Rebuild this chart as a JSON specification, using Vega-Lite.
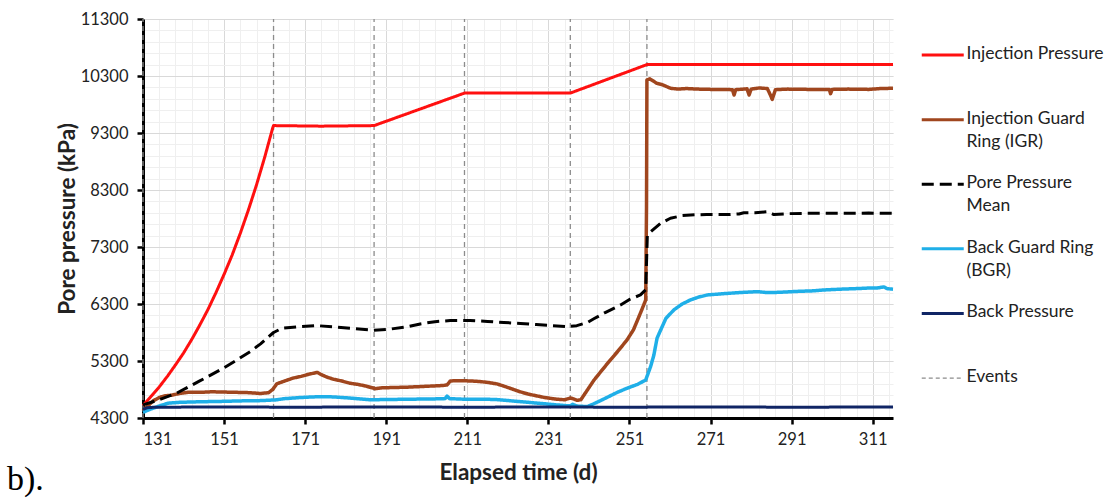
{
  "$schema": "https://vega.github.io/schema/vega-lite/v6.json",
  "width": 750,
  "height": 399,
  "autosize": {"type": "none"},
  "padding": {"left": 143, "top": 19, "right": 222, "bottom": 82},
  "background": "white",
  "config": {"view": {"stroke": null}, "font": "Lato"},
  "title": {"text": "b).", "orient": "bottom", "anchor": "start", "frame": "group", "font": "Liberation Serif", "fontSize": 34, "fontWeight": "normal", "color": "#000000", "dx": -136, "offset": -21},
  "datasets": {
    "events": [
      {"series": "Events", "day": 131},
      {"series": "Events", "day": 163.2},
      {"series": "Events", "day": 188},
      {"series": "Events", "day": 210.3},
      {"series": "Events", "day": 236.4},
      {"series": "Events", "day": 255.3}
    ],
    "lines": [
      {"series": "Injection Pressure", "day": 131, "value": 4520},
      {"series": "Injection Pressure", "day": 133, "value": 4680},
      {"series": "Injection Pressure", "day": 135, "value": 4845},
      {"series": "Injection Pressure", "day": 137, "value": 5030},
      {"series": "Injection Pressure", "day": 139, "value": 5230},
      {"series": "Injection Pressure", "day": 141, "value": 5440},
      {"series": "Injection Pressure", "day": 143, "value": 5675},
      {"series": "Injection Pressure", "day": 145, "value": 5930},
      {"series": "Injection Pressure", "day": 147, "value": 6200},
      {"series": "Injection Pressure", "day": 149, "value": 6500},
      {"series": "Injection Pressure", "day": 151, "value": 6820},
      {"series": "Injection Pressure", "day": 153, "value": 7160},
      {"series": "Injection Pressure", "day": 155, "value": 7540},
      {"series": "Injection Pressure", "day": 157, "value": 7950},
      {"series": "Injection Pressure", "day": 159, "value": 8390},
      {"series": "Injection Pressure", "day": 161, "value": 8870},
      {"series": "Injection Pressure", "day": 163, "value": 9390},
      {"series": "Injection Pressure", "day": 163.2, "value": 9430},
      {"series": "Injection Pressure", "day": 175, "value": 9420},
      {"series": "Injection Pressure", "day": 188, "value": 9430},
      {"series": "Injection Pressure", "day": 210.3, "value": 10000},
      {"series": "Injection Pressure", "day": 236.4, "value": 10000},
      {"series": "Injection Pressure", "day": 255.3, "value": 10500},
      {"series": "Injection Pressure", "day": 316, "value": 10500},

      {"series": "Injection Guard Ring (IGR)", "day": 131, "value": 4420},
      {"series": "Injection Guard Ring (IGR)", "day": 132, "value": 4500},
      {"series": "Injection Guard Ring (IGR)", "day": 133.5, "value": 4600},
      {"series": "Injection Guard Ring (IGR)", "day": 135, "value": 4660},
      {"series": "Injection Guard Ring (IGR)", "day": 136.5, "value": 4690},
      {"series": "Injection Guard Ring (IGR)", "day": 138, "value": 4700},
      {"series": "Injection Guard Ring (IGR)", "day": 140, "value": 4730},
      {"series": "Injection Guard Ring (IGR)", "day": 142, "value": 4750},
      {"series": "Injection Guard Ring (IGR)", "day": 145, "value": 4750},
      {"series": "Injection Guard Ring (IGR)", "day": 148, "value": 4760},
      {"series": "Injection Guard Ring (IGR)", "day": 151, "value": 4755},
      {"series": "Injection Guard Ring (IGR)", "day": 154, "value": 4750},
      {"series": "Injection Guard Ring (IGR)", "day": 157, "value": 4745},
      {"series": "Injection Guard Ring (IGR)", "day": 160, "value": 4730},
      {"series": "Injection Guard Ring (IGR)", "day": 162, "value": 4745},
      {"series": "Injection Guard Ring (IGR)", "day": 163, "value": 4800},
      {"series": "Injection Guard Ring (IGR)", "day": 164, "value": 4900},
      {"series": "Injection Guard Ring (IGR)", "day": 166, "value": 4950},
      {"series": "Injection Guard Ring (IGR)", "day": 168, "value": 5000},
      {"series": "Injection Guard Ring (IGR)", "day": 170, "value": 5030},
      {"series": "Injection Guard Ring (IGR)", "day": 172, "value": 5070},
      {"series": "Injection Guard Ring (IGR)", "day": 174, "value": 5100},
      {"series": "Injection Guard Ring (IGR)", "day": 175, "value": 5060},
      {"series": "Injection Guard Ring (IGR)", "day": 176.4, "value": 5016},
      {"series": "Injection Guard Ring (IGR)", "day": 178, "value": 4980},
      {"series": "Injection Guard Ring (IGR)", "day": 180, "value": 4950},
      {"series": "Injection Guard Ring (IGR)", "day": 182, "value": 4910},
      {"series": "Injection Guard Ring (IGR)", "day": 184, "value": 4890},
      {"series": "Injection Guard Ring (IGR)", "day": 186, "value": 4860},
      {"series": "Injection Guard Ring (IGR)", "day": 187, "value": 4840},
      {"series": "Injection Guard Ring (IGR)", "day": 188.3, "value": 4815},
      {"series": "Injection Guard Ring (IGR)", "day": 190, "value": 4830},
      {"series": "Injection Guard Ring (IGR)", "day": 193, "value": 4835},
      {"series": "Injection Guard Ring (IGR)", "day": 196, "value": 4840},
      {"series": "Injection Guard Ring (IGR)", "day": 199, "value": 4850},
      {"series": "Injection Guard Ring (IGR)", "day": 202, "value": 4860},
      {"series": "Injection Guard Ring (IGR)", "day": 205, "value": 4870},
      {"series": "Injection Guard Ring (IGR)", "day": 206, "value": 4880},
      {"series": "Injection Guard Ring (IGR)", "day": 206.8, "value": 4950},
      {"series": "Injection Guard Ring (IGR)", "day": 209, "value": 4955},
      {"series": "Injection Guard Ring (IGR)", "day": 211.7, "value": 4950},
      {"series": "Injection Guard Ring (IGR)", "day": 214, "value": 4940},
      {"series": "Injection Guard Ring (IGR)", "day": 216, "value": 4925},
      {"series": "Injection Guard Ring (IGR)", "day": 218.3, "value": 4898},
      {"series": "Injection Guard Ring (IGR)", "day": 220, "value": 4860},
      {"series": "Injection Guard Ring (IGR)", "day": 222, "value": 4810},
      {"series": "Injection Guard Ring (IGR)", "day": 224, "value": 4760},
      {"series": "Injection Guard Ring (IGR)", "day": 226, "value": 4720},
      {"series": "Injection Guard Ring (IGR)", "day": 228, "value": 4690},
      {"series": "Injection Guard Ring (IGR)", "day": 230, "value": 4660},
      {"series": "Injection Guard Ring (IGR)", "day": 233, "value": 4630},
      {"series": "Injection Guard Ring (IGR)", "day": 235, "value": 4620},
      {"series": "Injection Guard Ring (IGR)", "day": 236.4, "value": 4650},
      {"series": "Injection Guard Ring (IGR)", "day": 237, "value": 4640},
      {"series": "Injection Guard Ring (IGR)", "day": 238.1, "value": 4610},
      {"series": "Injection Guard Ring (IGR)", "day": 239, "value": 4620},
      {"series": "Injection Guard Ring (IGR)", "day": 240.6, "value": 4790},
      {"series": "Injection Guard Ring (IGR)", "day": 242.2, "value": 4960},
      {"series": "Injection Guard Ring (IGR)", "day": 244, "value": 5120},
      {"series": "Injection Guard Ring (IGR)", "day": 246.3, "value": 5320},
      {"series": "Injection Guard Ring (IGR)", "day": 248, "value": 5460},
      {"series": "Injection Guard Ring (IGR)", "day": 250.4, "value": 5670},
      {"series": "Injection Guard Ring (IGR)", "day": 252, "value": 5850},
      {"series": "Injection Guard Ring (IGR)", "day": 253.7, "value": 6140},
      {"series": "Injection Guard Ring (IGR)", "day": 255, "value": 6370},
      {"series": "Injection Guard Ring (IGR)", "day": 255.2, "value": 8000},
      {"series": "Injection Guard Ring (IGR)", "day": 255.3, "value": 10230},
      {"series": "Injection Guard Ring (IGR)", "day": 256, "value": 10250},
      {"series": "Injection Guard Ring (IGR)", "day": 257.8, "value": 10170},
      {"series": "Injection Guard Ring (IGR)", "day": 259, "value": 10150},
      {"series": "Injection Guard Ring (IGR)", "day": 261.1, "value": 10085},
      {"series": "Injection Guard Ring (IGR)", "day": 263, "value": 10070},
      {"series": "Injection Guard Ring (IGR)", "day": 265, "value": 10080},
      {"series": "Injection Guard Ring (IGR)", "day": 268, "value": 10070},
      {"series": "Injection Guard Ring (IGR)", "day": 271, "value": 10065},
      {"series": "Injection Guard Ring (IGR)", "day": 274, "value": 10065},
      {"series": "Injection Guard Ring (IGR)", "day": 276.4, "value": 10060},
      {"series": "Injection Guard Ring (IGR)", "day": 276.8, "value": 9967},
      {"series": "Injection Guard Ring (IGR)", "day": 277.2, "value": 10060},
      {"series": "Injection Guard Ring (IGR)", "day": 280, "value": 10075},
      {"series": "Injection Guard Ring (IGR)", "day": 280.5, "value": 9967},
      {"series": "Injection Guard Ring (IGR)", "day": 281, "value": 10070},
      {"series": "Injection Guard Ring (IGR)", "day": 283, "value": 10090},
      {"series": "Injection Guard Ring (IGR)", "day": 285, "value": 10080},
      {"series": "Injection Guard Ring (IGR)", "day": 285.8, "value": 9960},
      {"series": "Injection Guard Ring (IGR)", "day": 286.2, "value": 9890},
      {"series": "Injection Guard Ring (IGR)", "day": 287, "value": 10060},
      {"series": "Injection Guard Ring (IGR)", "day": 290, "value": 10070},
      {"series": "Injection Guard Ring (IGR)", "day": 295, "value": 10065},
      {"series": "Injection Guard Ring (IGR)", "day": 300.3, "value": 10065},
      {"series": "Injection Guard Ring (IGR)", "day": 300.6, "value": 9990},
      {"series": "Injection Guard Ring (IGR)", "day": 301, "value": 10065},
      {"series": "Injection Guard Ring (IGR)", "day": 305, "value": 10070},
      {"series": "Injection Guard Ring (IGR)", "day": 310, "value": 10065},
      {"series": "Injection Guard Ring (IGR)", "day": 313, "value": 10080},
      {"series": "Injection Guard Ring (IGR)", "day": 316, "value": 10085},

      {"series": "Pore Pressure Mean", "day": 131, "value": 4530},
      {"series": "Pore Pressure Mean", "day": 135, "value": 4620},
      {"series": "Pore Pressure Mean", "day": 139.3, "value": 4735},
      {"series": "Pore Pressure Mean", "day": 145, "value": 4950},
      {"series": "Pore Pressure Mean", "day": 150.8, "value": 5173},
      {"series": "Pore Pressure Mean", "day": 154, "value": 5310},
      {"series": "Pore Pressure Mean", "day": 157.4, "value": 5464},
      {"series": "Pore Pressure Mean", "day": 160, "value": 5600},
      {"series": "Pore Pressure Mean", "day": 163.2, "value": 5800},
      {"series": "Pore Pressure Mean", "day": 165.3, "value": 5875},
      {"series": "Pore Pressure Mean", "day": 169, "value": 5900},
      {"series": "Pore Pressure Mean", "day": 173.9, "value": 5920},
      {"series": "Pore Pressure Mean", "day": 178, "value": 5900},
      {"series": "Pore Pressure Mean", "day": 183, "value": 5870},
      {"series": "Pore Pressure Mean", "day": 187.9, "value": 5840},
      {"series": "Pore Pressure Mean", "day": 192, "value": 5860},
      {"series": "Pore Pressure Mean", "day": 196, "value": 5900},
      {"series": "Pore Pressure Mean", "day": 199.4, "value": 5950},
      {"series": "Pore Pressure Mean", "day": 203, "value": 5990},
      {"series": "Pore Pressure Mean", "day": 206.8, "value": 6010},
      {"series": "Pore Pressure Mean", "day": 211.7, "value": 6010},
      {"series": "Pore Pressure Mean", "day": 216, "value": 5995},
      {"series": "Pore Pressure Mean", "day": 220, "value": 5975},
      {"series": "Pore Pressure Mean", "day": 224.1, "value": 5960},
      {"series": "Pore Pressure Mean", "day": 228, "value": 5940},
      {"series": "Pore Pressure Mean", "day": 232, "value": 5920},
      {"series": "Pore Pressure Mean", "day": 235.6, "value": 5905},
      {"series": "Pore Pressure Mean", "day": 238, "value": 5920},
      {"series": "Pore Pressure Mean", "day": 240.6, "value": 5975},
      {"series": "Pore Pressure Mean", "day": 242.2, "value": 6040},
      {"series": "Pore Pressure Mean", "day": 245, "value": 6150},
      {"series": "Pore Pressure Mean", "day": 248.8, "value": 6283},
      {"series": "Pore Pressure Mean", "day": 251, "value": 6380},
      {"series": "Pore Pressure Mean", "day": 253.7, "value": 6459},
      {"series": "Pore Pressure Mean", "day": 255, "value": 6550},
      {"series": "Pore Pressure Mean", "day": 255.4, "value": 7500},
      {"series": "Pore Pressure Mean", "day": 255.8, "value": 7541},
      {"series": "Pore Pressure Mean", "day": 258.7, "value": 7717},
      {"series": "Pore Pressure Mean", "day": 261.1, "value": 7804},
      {"series": "Pore Pressure Mean", "day": 264, "value": 7850},
      {"series": "Pore Pressure Mean", "day": 266.1, "value": 7862},
      {"series": "Pore Pressure Mean", "day": 270, "value": 7870},
      {"series": "Pore Pressure Mean", "day": 275.9, "value": 7870},
      {"series": "Pore Pressure Mean", "day": 278, "value": 7880},
      {"series": "Pore Pressure Mean", "day": 279.2, "value": 7900},
      {"series": "Pore Pressure Mean", "day": 282, "value": 7900},
      {"series": "Pore Pressure Mean", "day": 285, "value": 7920},
      {"series": "Pore Pressure Mean", "day": 286.6, "value": 7870},
      {"series": "Pore Pressure Mean", "day": 290, "value": 7885},
      {"series": "Pore Pressure Mean", "day": 295, "value": 7890},
      {"series": "Pore Pressure Mean", "day": 300, "value": 7890},
      {"series": "Pore Pressure Mean", "day": 305, "value": 7890},
      {"series": "Pore Pressure Mean", "day": 310, "value": 7895},
      {"series": "Pore Pressure Mean", "day": 316, "value": 7890},

      {"series": "Back Guard Ring (BGR)", "day": 131, "value": 4400},
      {"series": "Back Guard Ring (BGR)", "day": 133, "value": 4460},
      {"series": "Back Guard Ring (BGR)", "day": 135, "value": 4510},
      {"series": "Back Guard Ring (BGR)", "day": 137.2, "value": 4560},
      {"series": "Back Guard Ring (BGR)", "day": 140, "value": 4575},
      {"series": "Back Guard Ring (BGR)", "day": 145, "value": 4585},
      {"series": "Back Guard Ring (BGR)", "day": 149.6, "value": 4590},
      {"series": "Back Guard Ring (BGR)", "day": 155, "value": 4600},
      {"series": "Back Guard Ring (BGR)", "day": 160, "value": 4605},
      {"series": "Back Guard Ring (BGR)", "day": 163.6, "value": 4617},
      {"series": "Back Guard Ring (BGR)", "day": 166, "value": 4640},
      {"series": "Back Guard Ring (BGR)", "day": 170, "value": 4660},
      {"series": "Back Guard Ring (BGR)", "day": 174.7, "value": 4675},
      {"series": "Back Guard Ring (BGR)", "day": 178, "value": 4670},
      {"series": "Back Guard Ring (BGR)", "day": 182, "value": 4650},
      {"series": "Back Guard Ring (BGR)", "day": 187, "value": 4620},
      {"series": "Back Guard Ring (BGR)", "day": 192, "value": 4625},
      {"series": "Back Guard Ring (BGR)", "day": 197, "value": 4630},
      {"series": "Back Guard Ring (BGR)", "day": 203, "value": 4635},
      {"series": "Back Guard Ring (BGR)", "day": 205.5, "value": 4640},
      {"series": "Back Guard Ring (BGR)", "day": 206, "value": 4685},
      {"series": "Back Guard Ring (BGR)", "day": 206.6, "value": 4640},
      {"series": "Back Guard Ring (BGR)", "day": 210, "value": 4630},
      {"series": "Back Guard Ring (BGR)", "day": 214, "value": 4630},
      {"series": "Back Guard Ring (BGR)", "day": 218, "value": 4625},
      {"series": "Back Guard Ring (BGR)", "day": 222, "value": 4600},
      {"series": "Back Guard Ring (BGR)", "day": 226, "value": 4575},
      {"series": "Back Guard Ring (BGR)", "day": 230, "value": 4550},
      {"series": "Back Guard Ring (BGR)", "day": 233, "value": 4530},
      {"series": "Back Guard Ring (BGR)", "day": 236.4, "value": 4512},
      {"series": "Back Guard Ring (BGR)", "day": 237, "value": 4540},
      {"series": "Back Guard Ring (BGR)", "day": 238, "value": 4510},
      {"series": "Back Guard Ring (BGR)", "day": 240.6, "value": 4500},
      {"series": "Back Guard Ring (BGR)", "day": 242.2, "value": 4550},
      {"series": "Back Guard Ring (BGR)", "day": 244, "value": 4610},
      {"series": "Back Guard Ring (BGR)", "day": 246, "value": 4680},
      {"series": "Back Guard Ring (BGR)", "day": 248, "value": 4750},
      {"series": "Back Guard Ring (BGR)", "day": 250.4, "value": 4822},
      {"series": "Back Guard Ring (BGR)", "day": 253, "value": 4890},
      {"series": "Back Guard Ring (BGR)", "day": 255, "value": 4967},
      {"series": "Back Guard Ring (BGR)", "day": 256.2, "value": 5200},
      {"series": "Back Guard Ring (BGR)", "day": 257, "value": 5400},
      {"series": "Back Guard Ring (BGR)", "day": 257.8, "value": 5700},
      {"series": "Back Guard Ring (BGR)", "day": 258.7, "value": 5845},
      {"series": "Back Guard Ring (BGR)", "day": 260, "value": 6050},
      {"series": "Back Guard Ring (BGR)", "day": 262, "value": 6200},
      {"series": "Back Guard Ring (BGR)", "day": 264, "value": 6300},
      {"series": "Back Guard Ring (BGR)", "day": 266, "value": 6370},
      {"series": "Back Guard Ring (BGR)", "day": 268, "value": 6420},
      {"series": "Back Guard Ring (BGR)", "day": 270.2, "value": 6459},
      {"series": "Back Guard Ring (BGR)", "day": 274, "value": 6480},
      {"series": "Back Guard Ring (BGR)", "day": 278, "value": 6500},
      {"series": "Back Guard Ring (BGR)", "day": 282.5, "value": 6517},
      {"series": "Back Guard Ring (BGR)", "day": 285, "value": 6500},
      {"series": "Back Guard Ring (BGR)", "day": 288, "value": 6505},
      {"series": "Back Guard Ring (BGR)", "day": 292, "value": 6520},
      {"series": "Back Guard Ring (BGR)", "day": 296, "value": 6530},
      {"series": "Back Guard Ring (BGR)", "day": 299, "value": 6546},
      {"series": "Back Guard Ring (BGR)", "day": 303, "value": 6560},
      {"series": "Back Guard Ring (BGR)", "day": 307, "value": 6570},
      {"series": "Back Guard Ring (BGR)", "day": 310, "value": 6580},
      {"series": "Back Guard Ring (BGR)", "day": 312, "value": 6580},
      {"series": "Back Guard Ring (BGR)", "day": 313.8, "value": 6600},
      {"series": "Back Guard Ring (BGR)", "day": 314.5, "value": 6570},
      {"series": "Back Guard Ring (BGR)", "day": 316, "value": 6560},

      {"series": "Back Pressure", "day": 131, "value": 4450},
      {"series": "Back Pressure", "day": 132, "value": 4480},
      {"series": "Back Pressure", "day": 134, "value": 4490},
      {"series": "Back Pressure", "day": 150, "value": 4492},
      {"series": "Back Pressure", "day": 170, "value": 4490},
      {"series": "Back Pressure", "day": 190, "value": 4493},
      {"series": "Back Pressure", "day": 210, "value": 4490},
      {"series": "Back Pressure", "day": 230, "value": 4492},
      {"series": "Back Pressure", "day": 250, "value": 4490},
      {"series": "Back Pressure", "day": 270, "value": 4493},
      {"series": "Back Pressure", "day": 290, "value": 4490},
      {"series": "Back Pressure", "day": 316, "value": 4492}
    ]
  },
  "resolve": {"axis": {"x": "independent", "y": "independent"}},
  "layer": [
    {
      "data": {"name": "events"},
      "mark": {"type": "rule", "strokeWidth": 1.3, "strokeDash": [5, 4]},
      "encoding": {
        "x": {
          "field": "day", "type": "quantitative",
          "scale": {"domain": [131, 316], "nice": false, "zero": false},
          "axis": {"orient": "top", "title": null, "labels": false, "ticks": false, "domain": false, "grid": true, "gridColor": "#EFEFEF", "gridWidth": 1,
            "values": [131,135,139,143,147,151,155,159,163,167,171,175,179,183,187,191,195,199,203,207,211,215,219,223,227,231,235,239,243,247,251,255,259,263,267,271,275,279,283,287,291,295,299,303,307,311,315]}
        },
        "y": {
          "datum": 4300, "type": "quantitative",
          "scale": {"domain": [4300, 11300], "nice": false, "zero": false},
          "axis": {"orient": "right", "title": null, "labels": false, "ticks": false, "domain": false, "grid": true, "gridColor": "#EFEFEF", "gridWidth": 1,
            "values": [4300,4500,4700,4900,5100,5300,5500,5700,5900,6100,6300,6500,6700,6900,7100,7300,7500,7700,7900,8100,8300,8500,8700,8900,9100,9300,9500,9700,9900,10100,10300,10500,10700,10900,11100,11300]}
        },
        "y2": {"datum": 11300},
        "color": {"field": "series", "type": "nominal"}
      }
    },
    {
      "data": {"name": "lines"},
      "mark": {"type": "line", "strokeJoin": "round", "strokeCap": "butt"},
      "encoding": {
        "x": {
          "field": "day", "type": "quantitative",
          "scale": {"domain": [131, 316], "nice": false, "zero": false},
          "axis": {"orient": "bottom", "title": "Elapsed time (d)", "values": [131,151,171,191,211,231,251,271,291,311], "format": "d",
            "grid": true, "gridColor": "#D9D9D9", "gridWidth": 1,
            "domainColor": "#000000", "domainWidth": 3, "tickColor": "#000000", "tickWidth": 2.5, "tickSize": 6,
            "labelFont": "Lato", "labelFontSize": 16.5, "labelColor": "#222222", "labelPadding": 7,
            "titleFont": "Lato", "titleFontSize": 22.5, "titleFontWeight": "bold", "titleColor": "#222222", "titlePadding": 14}
        },
        "y": {
          "field": "value", "type": "quantitative",
          "scale": {"domain": [4300, 11300], "nice": false, "zero": false},
          "axis": {"orient": "left", "title": "Pore pressure (kPa)", "values": [4300,5300,6300,7300,8300,9300,10300,11300], "format": "d",
            "grid": true, "gridColor": "#D9D9D9", "gridWidth": 1,
            "domainColor": "#000000", "domainWidth": 3, "tickColor": "#000000", "tickWidth": 2.5, "tickSize": 6,
            "labelFont": "Lato", "labelFontSize": 16.5, "labelColor": "#222222", "labelPadding": 9,
            "titleFont": "Lato", "titleFontSize": 22.5, "titleFontWeight": "bold", "titleColor": "#222222", "titlePadding": 1}
        },
        "color": {
          "field": "series", "type": "nominal",
          "scale": {
            "domain": ["Injection Pressure", "Injection Guard Ring (IGR)", "Pore Pressure Mean", "Back Guard Ring (BGR)", "Back Pressure", "Events"],
            "range": ["#FF1010", "#A0461E", "#000000", "#1FAFE8", "#102565", "#8C8C8C"]
          },
          "legend": {
            "orient": "none", "legendX": 778, "legendY": 27.3, "title": null,
            "symbolType": "stroke", "symbolSize": 1764, "symbolStrokeWidth": 3, "symbolOffset": 13,
            "labelFont": "Lato", "labelFontSize": 17.5, "labelColor": "#222222", "labelOffset": 15, "labelLimit": 300,
            "labelBaseline": "top", "rowPadding": 22.6,
            "labelExpr": "datum.label == 'Injection Guard Ring (IGR)' ? ['Injection Guard', 'Ring (IGR)'] : datum.label == 'Pore Pressure Mean' ? ['Pore Pressure', 'Mean'] : datum.label == 'Back Guard Ring (BGR)' ? ['Back Guard Ring', '(BGR)'] : [datum.label, ' ']",
            "encode": {
              "symbols": {"update": {
                "strokeDash": {"signal": "datum.value == 'Pore Pressure Mean' ? [12, 6] : datum.value == 'Events' ? [4, 3] : [1, 0]"},
                "strokeWidth": {"signal": "datum.value == 'Events' ? 1.3 : 3"}
              }},
              "labels": {"update": {"lineHeight": {"value": 23}, "dy": {"value": -10}}}
            }
          }
        },
        "strokeDash": {"condition": {"test": "datum.series == 'Pore Pressure Mean'", "value": [12, 6]}, "value": [1, 0]},
        "strokeWidth": {"condition": {"test": "datum.series == 'Injection Guard Ring (IGR)' || datum.series == 'Back Guard Ring (BGR)'", "value": 3.5}, "value": 3}
      }
    }
  ]
}
